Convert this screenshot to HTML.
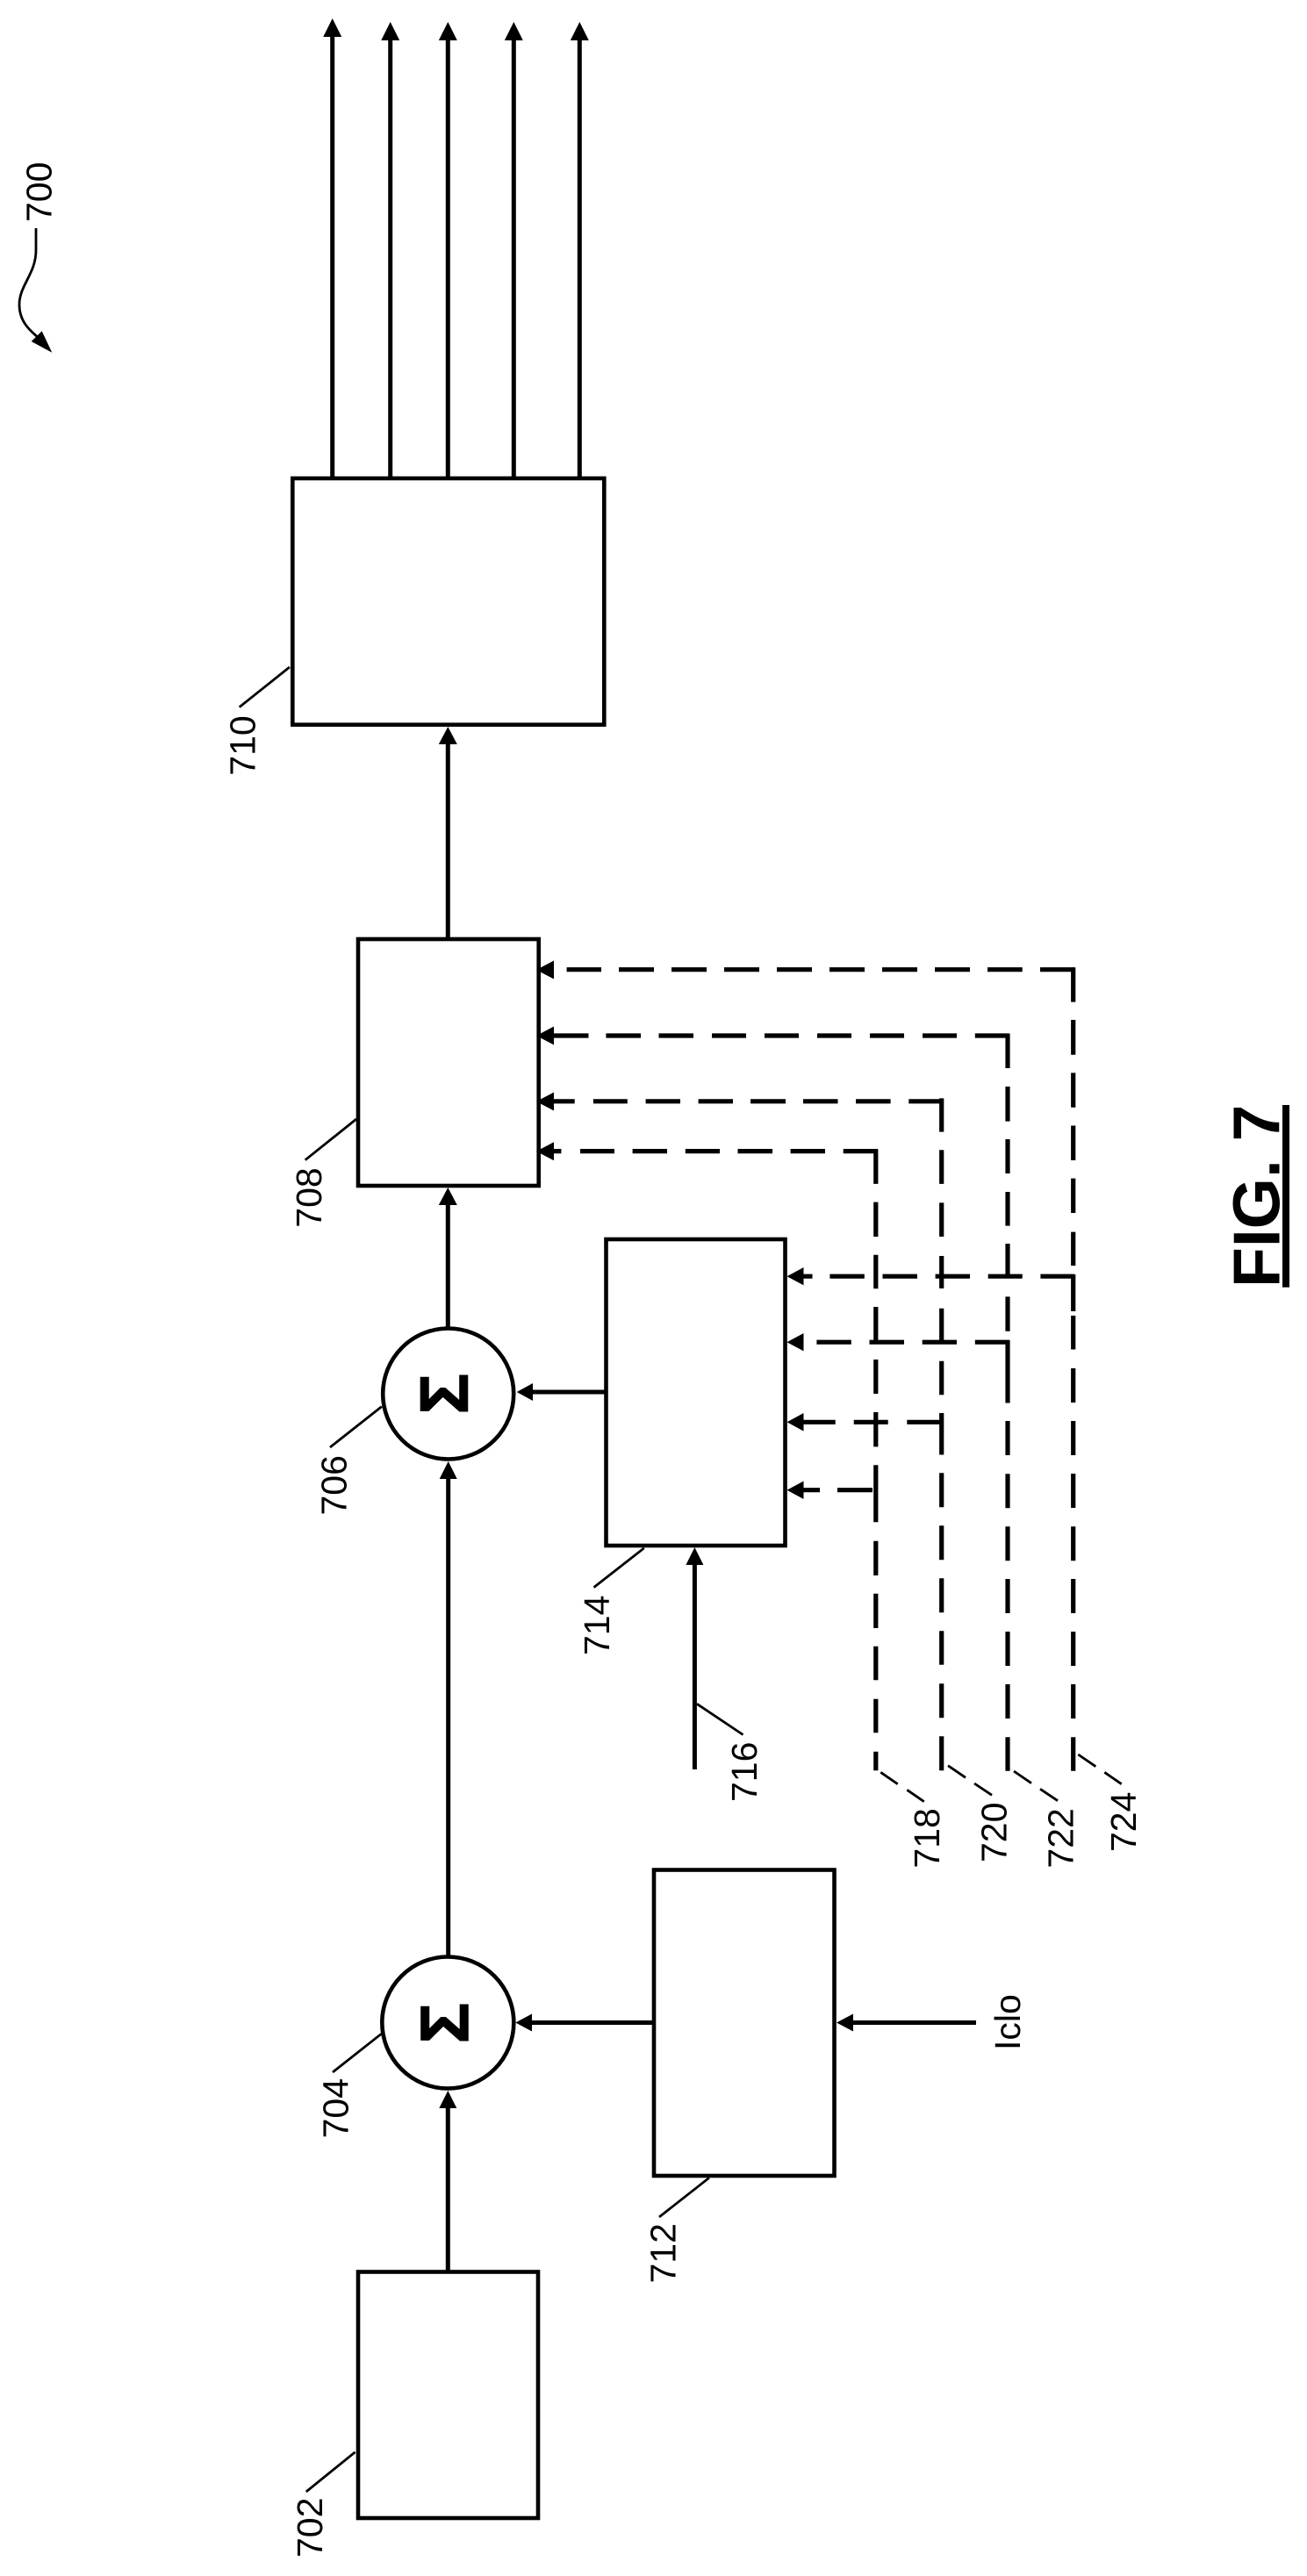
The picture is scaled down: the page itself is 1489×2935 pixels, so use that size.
<!DOCTYPE html>
<html><head><meta charset="utf-8"><style>
html,body{margin:0;padding:0;background:#fff;width:1489px;height:2935px;overflow:hidden}
svg{display:block}
text{font-family:"Liberation Sans",sans-serif;font-size:41px;fill:#000}
</style></head><body>
<svg width="1489" height="2935" viewBox="0 0 1489 2935" xmlns="http://www.w3.org/2000/svg">
<rect width="1489" height="2935" fill="#fff"/>
<!-- boxes -->
<g fill="none" stroke="#000" stroke-width="4.6">
<rect x="333.3" y="545" width="355" height="280.7"/>
<rect x="408" y="1070" width="205.7" height="281"/>
<rect x="690.5" y="1412" width="204" height="349"/>
<rect x="745" y="2130.5" width="205.5" height="348.5"/>
<rect x="408" y="2588.5" width="205" height="280.5"/>
<circle cx="510.7" cy="1588" r="74.5"/>
<circle cx="510.3" cy="2304.5" r="75"/>
</g>
<!-- solid lines -->
<g fill="none" stroke="#000" stroke-width="5">
<path d="M378.7 545V40M444.7 545V44M510.3 545V44M585.3 545V44M660.3 545V44"/>
<path d="M510.3 1070V846M510.3 1513V1371M510.7 2229V1683M510.3 2588.5V2400"/>
<path d="M690 1586H606M791.4 2016V1781M745 2304.5H605M1112 2304.5H971"/>
</g>
<!-- arrowheads -->
<g fill="#000">
<path d="M378.7 21L389.2 42H368.2ZM444.7 25L455.2 46H434.2ZM510.3 25L520.8 46H499.8ZM585.3 25L595.8 46H574.8ZM660.3 25L670.8 46H649.8Z"/>
<path d="M510.3 828L520.8 848H499.8ZM510.3 1353L520.8 1373H499.8ZM510.7 1665L520.7 1685H500.7ZM510.3 2382L520.3 2402H500.3ZM791.4 1763L801.4 1783H781.4Z"/>
<path d="M588.7 1586L607 1576V1596ZM587.3 2304.5L606 2294.5V2314.5ZM953 2304.5L972 2294.5V2314.5Z"/>
<path d="M611 1105L631 1094.5V1115.5ZM611 1180L631 1169.5V1190.5ZM611 1255L631 1244.5V1265.5ZM611 1311.7L631 1301.2V1322.2Z"/>
<path d="M896.5 1454.2L915.5 1444V1464.4ZM896.5 1529.2L915.5 1519V1539.4ZM896.5 1620.3L915.5 1610V1630.6ZM896.5 1697.7L915.5 1687.5V1708Z"/>
<path d="M59.3 401.7L47.7 377.3L35.7 389Z"/>
</g>
<!-- dashed -->
<g fill="none" stroke="#000" stroke-width="5.2">
<path d="M1185 1104.7H1224M1125 1104.7H1164.7M1065 1104.7H1105M1005 1104.7H1045M945 1104.7H985M885 1104.7H925M825 1104.7H865M765 1104.7H805M705 1104.7H745M645.6 1104.7H685"/>
<path d="M1110.8 1180H1149.5M1051 1180H1090M991 1180H1030M931 1180H970M871 1180H910M811 1180H850M750.5 1180H790M690.4 1180H730M631 1180H670.5"/>
<path d="M1035.3 1254.8H1075M975 1254.8H1014.6M915 1254.8H954.5M855 1254.8H895M795.6 1254.8H835M735.6 1254.8H775M675.9 1254.8H714.8M627 1254.8H654.7"/>
<path d="M960.7 1311.6H1000M900.6 1311.6H940M840.5 1311.6H880M780.8 1311.6H820M720.6 1311.6H760M661 1311.6H700M614.5 1311.6H639.4"/>
<path d="M1222.7 1102.2V1141.6M1222.7 1162V1201.7M1222.7 1222.4V1261.8M1222.7 1282.5V1322M1222.7 1342.6V1382M1222.7 1403.6V1442M1222.7 1452V1494M1222.7 1499V1537.5M1222.7 1559V1598M1222.7 1619V1658M1222.7 1679V1718M1222.7 1739.3V1778.3M1222.7 1799V1838M1222.7 1859V1898M1222.7 1919V1958M1222.7 1979.3V2017.7"/>
<path d="M1148 1177.6V1217M1148 1238V1277.6M1148 1298V1337M1148 1358V1396.6M1148 1417V1454.6M1148 1477.4V1516.8M1148 1527V1598.5M1148 1619V1658M1148 1679.3V1718.3M1148 1739.3V1778.3M1148 1799V1838M1148 1859V1898M1148 1919V1958M1148 1979.3V2017.7"/>
<path d="M1072.7 1251.4V1289.6M1072.7 1310.3V1348.9M1072.7 1370.4V1409M1072.7 1431V1468M1072.7 1490.7V1529M1072.7 1550.8V1589.3M1072.7 1610V1657.5M1072.7 1678.3V1717.3M1072.7 1738.3V1777.3M1072.7 1798.3V1837.3M1072.7 1858.3V1896.7M1072.7 1918.3V1957.3M1072.7 1978.3V2017.3"/>
<path d="M997.8 1309.5V1348.9M997.8 1369.6V1409M997.8 1429.7V1468.3M997.8 1489V1529M997.8 1549V1588M997.8 1609V1648.4M997.8 1669.3V1734.3M997.8 1755.7V1795M997.8 1815.7V1855M997.8 1875.7V1914.3M997.8 1935.7V1974.3M997.8 1995.7V2017.3"/>
<path d="M1185.4 1454.2H1224M1125.7 1454.2H1164.7M1065.6 1454.2H1105M1005.5 1454.2H1045M945.4 1454.2H984.8M912 1454.2H925.5"/>
<path d="M1110.8 1529.2H1150M1050.7 1529.2H1090M990.5 1529.2H1030M930.4 1529.2H969.8"/>
<path d="M1033.3 1620.3H1075M972.7 1620.3H1011.7M913 1620.3H951.7"/>
<path d="M954 1697.7H994M912 1697.7H934"/>
</g>
<!-- leaders -->
<g fill="none" stroke="#000" stroke-width="2.8">
<path d="M330 760L272.7 805.7M406 1275L347.7 1321.7M434.8 1602.6L376 1649M733.8 1763.8L676.5 1808.6M793.9 1941.3L846.5 1976.5M434.4 2317.3L379 2361M807.9 2481.3L751 2526M404.6 2793.8L348.8 2839"/>
<path d="M1003.3 2019.3L1022.7 2032.7M1033.3 2039.3L1052.7 2052.7M1080 2011.7L1100 2025.3M1110 2032L1130 2045.3M1155 2018L1175 2031.7M1185 2038.3L1205 2051.7M1228.3 1999L1248.3 2012.7M1258.3 2019.3L1277.7 2032.7"/>
<path d="M41 260V285C41 312 22 325 22 347C22 365 32 375 44 385"/>
</g>
<!-- labels -->
<text transform="translate(58.3 253) rotate(-90)">700</text>
<text transform="translate(290.7 883.7) rotate(-90)">710</text>
<text transform="translate(366 1398.7) rotate(-90)">708</text>
<text transform="translate(394.6 1726.5) rotate(-90)">706</text>
<text transform="translate(694 1886) rotate(-90)">714</text>
<text transform="translate(862 2053) rotate(-90)">716</text>
<text transform="translate(1070 2128.6) rotate(-90)">718</text>
<text transform="translate(1146.7 2122) rotate(-90)">720</text>
<text transform="translate(1222.3 2128.6) rotate(-90)">722</text>
<text transform="translate(1294 2110) rotate(-90)">724</text>
<text transform="translate(396.5 2436.4) rotate(-90)">704</text>
<text transform="translate(769.4 2601.5) rotate(-90)">712</text>
<text transform="translate(367.2 2914) rotate(-90)">702</text>
<text transform="translate(1162 2336) rotate(-90)">Iclo</text>
<text transform="translate(532.3 1588) rotate(-90)" text-anchor="middle" style="font-weight:bold;font-size:77px;stroke:#000;stroke-width:1.5">Σ</text>
<text transform="translate(533 2305) rotate(-90)" text-anchor="middle" style="font-weight:bold;font-size:77px;stroke:#000;stroke-width:1.5">Σ</text>
<text transform="translate(1457.3 1467) rotate(-90)" style="font-weight:bold;font-size:75px">FIG. 7</text>
<rect x="1461" y="1259" width="8" height="207.7" fill="#000"/>
</svg>
</body></html>
